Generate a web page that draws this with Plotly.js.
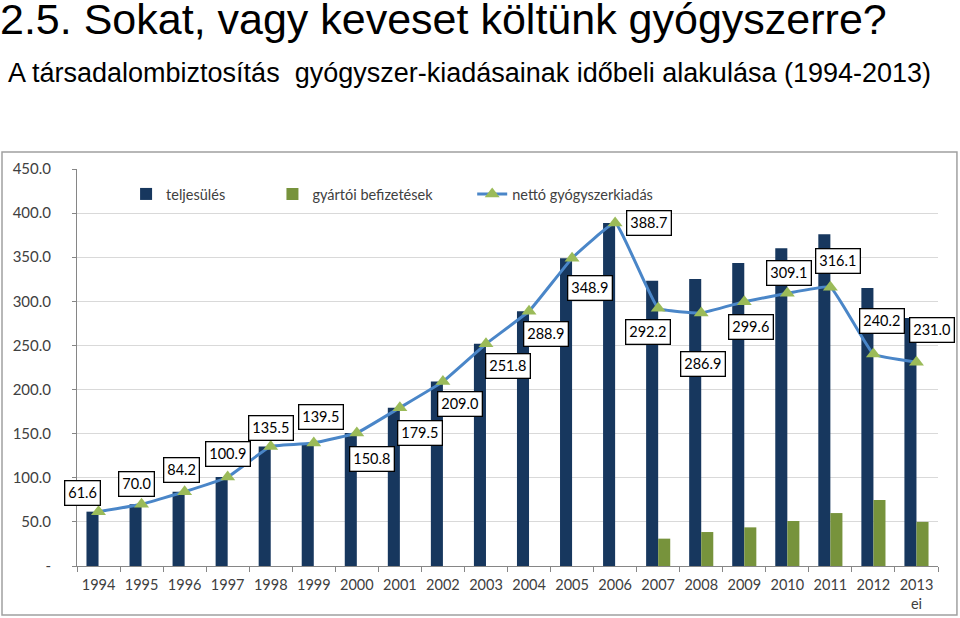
<!DOCTYPE html>
<html>
<head>
<meta charset="utf-8">
<script src="https://cdn.plot.ly/plotly-3.0.1.min.js"></script>
<style>html,body{margin:0;padding:0;background:#fff;}#chart{width:960px;height:618px;}</style>
</head>
<body>
<div id="chart"></div>
<script>
// ---- data ----
const years = ['1994','1995','1996','1997','1998','1999','2000','2001','2002','2003','2004','2005','2006','2007','2008','2009','2010','2011','2012','2013<br>ei'];
const teljesules = [61.6,70.0,84.2,100.9,135.5,139.5,150.8,179.5,209.0,251.8,288.9,348.9,388.7,323.2,325.4,343.4,360.1,376.1,315.0,281.0];
const gyartoiBefizetesek = [null,null,null,null,null,null,null,null,null,null,null,null,null,31.0,38.5,43.8,51.0,60.0,74.8,50.0];
const nettoKiadas = [61.6,70.0,84.2,100.9,135.5,139.5,150.8,179.5,209.0,251.8,288.9,348.9,388.7,292.2,286.9,299.6,309.1,316.1,240.2,231.0];
const yTickVals = [0,50,100,150,200,250,300,350,400,450];
const yTickText = ['-','50.0','100.0','150.0','200.0','250.0','300.0','350.0','400.0','450.0'];

// label placement offsets (pixels), layout only
const labelDx = [-16,-5,-3,0,0,7,15,20,17,22,17,18,34,-10,2,7,2,8,9,16];
const labelDy = [-19,-20,-22,-23,-18,-26,26,25,22,22,23,30,0,24,51,25,-20,-26,-33,-32];

const tickFont = {family:'Lato, "Open Sans", sans-serif', size:14.5, color:'#404040'};

const traces = [
  {type:'bar', name:'teljesülés', x:years, y:teljesules, marker:{color:'#17375E'}, legend:'legend', hoverinfo:'x+y'},
  {type:'bar', name:'gyártói befizetések', x:years, y:gyartoiBefizetesek, marker:{color:'#77933C'}, legend:'legend2', hoverinfo:'x+y'},
  {type:'scatter', mode:'lines+markers', name:'nettó gyógyszerkiadás', x:years, y:nettoKiadas,
   line:{color:'#4A86C8', width:3, shape:'spline', smoothing:0.3},
   marker:{symbol:'triangle-up', size:13, color:'#9BBB59'}, legend:'legend3', hoverinfo:'x+y'}
];

const annotations = nettoKiadas.map((v,i)=>({
  x: i, y: v, xref:'x', yref:'y', text: v.toFixed(1), showarrow:false,
  xshift: labelDx[i], yshift: -labelDy[i],
  font:{family:'Lato, "Open Sans", sans-serif', size:14.5, color:'#000'},
  bgcolor:'#fff', bordercolor:'#000', borderwidth:1.3, borderpad:3
}));
annotations.push({
  xref:'paper', yref:'paper', x:-0.082, y:1.285, xanchor:'left', yanchor:'top', showarrow:false,
  text:'A társadalombiztosítás  gyógyszer-kiadásainak időbeli alakulása (1994-2013)',
  font:{family:'"Liberation Sans", Arial, sans-serif', size:27, color:'#000'}
});

const legendFont = {family:'Lato, "Open Sans", sans-serif', size:14.5, color:'#404040'};
const legendBase = {orientation:'h', yanchor:'middle', y:0.937, xanchor:'left', font:legendFont, bgcolor:'rgba(0,0,0,0)', borderwidth:0};

const layout = {
  width:960, height:618,
  margin:{l:77, r:22, t:169, b:52},
  paper_bgcolor:'#fff', plot_bgcolor:'#fff',
  title:{text:'2.5. Sokat, vagy keveset költünk gyógyszerre?', xref:'container', yref:'container', x:0, xanchor:'left', y:0.993, yanchor:'top',
    pad:{l:0,t:0}, font:{family:'"Liberation Sans", Arial, sans-serif', size:43, color:'#000'}},
  barmode:'group', bargap:0.44, bargroupgap:0,
  showlegend:true,
  legend:Object.assign({}, legendBase, {x:0.057}),
  legend2:Object.assign({}, legendBase, {x:0.227}),
  legend3:Object.assign({}, legendBase, {x:0.459}),
  xaxis:{type:'category', tickfont:tickFont, showgrid:false, range:[-0.5,19.5], ticklabelstandoff:6,
    showline:true, linecolor:'#868686', linewidth:1, ticks:'outside', tickson:'boundaries', ticklen:5, tickcolor:'#868686', fixedrange:true},
  yaxis:{range:[0,450], tickvals:yTickVals, ticktext:yTickText, tickfont:{family:'Lato, "Open Sans", sans-serif', size:15, color:'#404040'},
    ticklabelstandoff:18, showgrid:true, gridcolor:'#D9D9D9', gridwidth:1,
    showline:true, linecolor:'#868686', linewidth:1, ticks:'outside', ticklen:4, tickcolor:'#868686', zeroline:false, fixedrange:true},
  annotations:annotations,
  shapes:[{type:'rect', xref:'paper', yref:'paper', x0:-0.0871, x1:1.022, y0:-0.1234, y1:1.043, line:{color:'#A0A0A0', width:1.5}, fillcolor:'rgba(0,0,0,0)', layer:'below'}]
};

Plotly.newPlot('chart', traces, layout, {displayModeBar:false, staticPlot:true});
</script>
</body>
</html>
